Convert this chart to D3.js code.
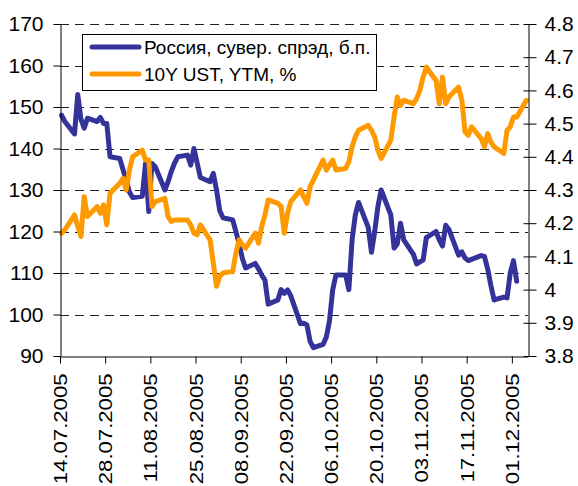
<!DOCTYPE html>
<html>
<head>
<meta charset="utf-8">
<script src="https://cdn.jsdelivr.net/npm/d3@7"></script>
<style>
  body { margin: 0; background: #fff; }
  svg { font-family: "Liberation Sans", Arial, sans-serif; }
</style>
</head>
<body>
<script>
// trading days, 14.07.2005 - 05.12.2005
var dates = [
  "14.07.2005","15.07.2005","18.07.2005","19.07.2005","20.07.2005","21.07.2005","22.07.2005",
  "25.07.2005","26.07.2005","27.07.2005","28.07.2005","29.07.2005",
  "01.08.2005","02.08.2005","03.08.2005","04.08.2005","05.08.2005",
  "08.08.2005","09.08.2005","10.08.2005","11.08.2005","12.08.2005",
  "15.08.2005","16.08.2005","17.08.2005","18.08.2005","19.08.2005",
  "22.08.2005","23.08.2005","24.08.2005","25.08.2005","26.08.2005",
  "29.08.2005","30.08.2005","31.08.2005","01.09.2005","02.09.2005",
  "05.09.2005","06.09.2005","07.09.2005","08.09.2005","09.09.2005",
  "12.09.2005","13.09.2005","14.09.2005","15.09.2005","16.09.2005",
  "19.09.2005","20.09.2005","21.09.2005","22.09.2005","23.09.2005",
  "26.09.2005","27.09.2005","28.09.2005","29.09.2005","30.09.2005",
  "03.10.2005","04.10.2005","05.10.2005","06.10.2005","07.10.2005",
  "10.10.2005","11.10.2005","12.10.2005","13.10.2005","14.10.2005",
  "17.10.2005","18.10.2005","19.10.2005","20.10.2005","21.10.2005",
  "24.10.2005","25.10.2005","26.10.2005","27.10.2005","28.10.2005",
  "31.10.2005","01.11.2005","02.11.2005","03.11.2005","04.11.2005",
  "07.11.2005","08.11.2005","09.11.2005","10.11.2005","11.11.2005",
  "14.11.2005","15.11.2005","16.11.2005","17.11.2005","18.11.2005",
  "21.11.2005","22.11.2005","23.11.2005","24.11.2005","25.11.2005",
  "28.11.2005","29.11.2005","30.11.2005","01.12.2005","02.12.2005",
  "05.12.2005"
];

// Россия, сувер. спрэд, б.п. (left axis), ends 02.12
var spread = [
  148, 146.5, 143.5, 153, 147, 144.9, 147.3,
  146.5, 147.5, 146, 146, 138,
  137.6, 135, 132.4, 129.5, 128.2,
  128.5, 136.4, 124.8, 136.4, 135.6,
  130, 132, 134.5, 136.5, 138,
  138.4, 136, 140, 136.5, 133,
  132, 134, 130, 125, 123.3,
  122.8, 120, 117, 113.5, 111.2,
  112.3, 111, 109.5, 108.3, 102.5,
  103.5, 106, 105.1, 105.9, 104.5,
  97.8, 97.9, 97.5, 93.5, 92,
  92.8, 94.5, 98.5, 106, 109.5,
  109.5, 106, 118, 124, 127,
  121, 115, 120, 126, 130,
  124, 116, 117, 122, 118,
  114.5, 112.2, 112.7, 113.1, 118.5,
  120, 118, 116.5, 121.5, 120.5,
  114.3, 115.1, 113.6, 113, 113.3,
  114.2, 114, 111, 107, 103.5,
  104.2, 104, 110, 113, 108
];

// 10Y UST, YTM, % (right axis)
var ust = [
  4.17, 4.18, 4.225, 4.19, 4.16, 4.28, 4.22,
  4.25, 4.23, 4.255, 4.195, 4.29,
  4.32, 4.335, 4.30, 4.36, 4.40,
  4.42, 4.39, 4.39, 4.25, 4.265,
  4.275, 4.22, 4.205, 4.21, 4.21,
  4.21, 4.195, 4.17, 4.165, 4.195,
  4.15, 4.08, 4.01, 4.04, 4.05,
  4.055, 4.11, 4.15, 4.135, 4.125,
  4.17, 4.14, 4.19, 4.225, 4.27,
  4.26, 4.25, 4.17, 4.23, 4.265,
  4.30, 4.28, 4.26, 4.31, 4.33,
  4.39, 4.36, 4.375, 4.39, 4.36,
  4.365, 4.385, 4.43, 4.46, 4.48,
  4.495, 4.48, 4.46, 4.42, 4.395,
  4.45, 4.52, 4.58, 4.555, 4.57,
  4.56, 4.575, 4.60, 4.64, 4.67,
  4.63, 4.56, 4.64, 4.56, 4.58,
  4.61, 4.57, 4.475, 4.465, 4.49,
  4.455, 4.43, 4.47, 4.445, 4.43,
  4.41, 4.48, 4.49, 4.52, 4.52,
  4.57
];

var leftTicks = [90, 100, 110, 120, 130, 140, 150, 160, 170];
var rightTicks = [3.8, 3.9, 4.0, 4.1, 4.2, 4.3, 4.4, 4.5, 4.6, 4.7, 4.8];
var dateTicks = ["14.07.2005","28.07.2005","11.08.2005","25.08.2005","08.09.2005","22.09.2005",
                 "06.10.2005","20.10.2005","03.11.2005","17.11.2005","01.12.2005"];
var seriesNames = ["Россия, сувер. спрэд, б.п.", "10Y UST, YTM, %"];
var seriesColors = ["#333399", "#FF9900"];

var W = 578, H = 486;
var plot = {left: 60, right: 528, top: 24, bottom: 356};

var parse = d3.timeParse("%d.%m.%Y");
var fmt = d3.timeFormat("%d.%m.%Y");

var x = d3.scaleTime()
  .domain([parse("14.07.2005"), parse("06.12.2005")])
  .range([plot.left, plot.right]);
var yL = d3.scaleLinear().domain([90, 170]).range([plot.bottom, plot.top]);
var yR = d3.scaleLinear().domain([3.8, 4.8]).range([plot.bottom, plot.top]);

// points sit in the middle of their day
var xPos = function(s) { return x(d3.timeHour.offset(parse(s), 12)); };

var svg = d3.select("body").append("svg")
  .attr("width", W).attr("height", H);

// dashed gridlines (left axis values)
svg.append("g").selectAll("line")
  .data(leftTicks.slice(1))
  .enter().append("line")
  .attr("x1", plot.left).attr("x2", plot.right)
  .attr("y1", function(d) { return Math.round(yL(d)) + 0.5; })
  .attr("y2", function(d) { return Math.round(yL(d)) + 0.5; })
  .attr("stroke", "#222")
  .attr("stroke-dasharray", "9,6");

var lineSpread = d3.line()
  .x(function(d, i) { return xPos(dates[i]); })
  .y(function(d) { return yL(d); });
var lineUst = d3.line()
  .x(function(d, i) { return xPos(dates[i]); })
  .y(function(d) { return yR(d); });

svg.append("path").datum(spread)
  .attr("d", lineSpread)
  .attr("fill", "none").attr("stroke", seriesColors[0])
  .attr("stroke-width", 5).attr("stroke-linejoin", "round").attr("stroke-linecap", "round");

svg.append("path").datum(ust)
  .attr("d", lineUst)
  .attr("fill", "none").attr("stroke", seriesColors[1])
  .attr("stroke-width", 5).attr("stroke-linejoin", "round").attr("stroke-linecap", "round");

// axes
var axL = svg.append("g")
  .attr("transform", "translate(" + (plot.left + 0.5) + ",0)")
  .call(d3.axisLeft(yL).tickValues(leftTicks).tickFormat(d3.format("d"))
    .tickSize(7).tickSizeOuter(0).tickPadding(10));

var axR = svg.append("g")
  .attr("transform", "translate(" + (plot.right + 0.5) + ",0)")
  .call(d3.axisRight(yR).tickValues(rightTicks).tickFormat(function(d) { return d === 4 ? "4" : d3.format(".1f")(d); })
    .tickSize(8).tickSizeOuter(0).tickPadding(8));
axR.selectAll(".tick line").attr("x1", -5);

var axB = svg.append("g")
  .attr("transform", "translate(0," + (plot.bottom + 0.5) + ")")
  .call(d3.axisBottom(x).tickValues(dateTicks.map(parse)).tickFormat(fmt)
    .tickSize(7).tickSizeOuter(0));

[axL, axR, axB].forEach(function(a) {
  a.selectAll("path, line").attr("stroke", "#000");
  a.selectAll("text").attr("fill", "#000").style("font-size", "21px");
});

// rotated date labels, a little stretched along the text like the original
axB.selectAll("text")
  .style("font-size", "18px")
  .attr("x", 0).attr("y", 0).attr("dy", "0.36em")
  .attr("text-anchor", "end")
  .attr("transform", "translate(0,17) rotate(-90) scale(1.23,1)");

// legend
var lg = svg.append("g");
lg.append("rect")
  .attr("x", 82.5).attr("y", 34.5).attr("width", 294).attr("height", 56)
  .attr("fill", "#fff").attr("stroke", "#000");
seriesNames.forEach(function(name, i) {
  var cy = 47 + i * 27;
  lg.append("line")
    .attr("x1", 92).attr("x2", 139).attr("y1", cy).attr("y2", cy)
    .attr("stroke", seriesColors[i]).attr("stroke-width", 5).attr("stroke-linecap", "round");
  lg.append("text")
    .attr("x", 144).attr("y", cy).attr("dy", "0.36em")
    .style("font-size", "19px")
    .text(name);
});
</script>
</body>
</html>
